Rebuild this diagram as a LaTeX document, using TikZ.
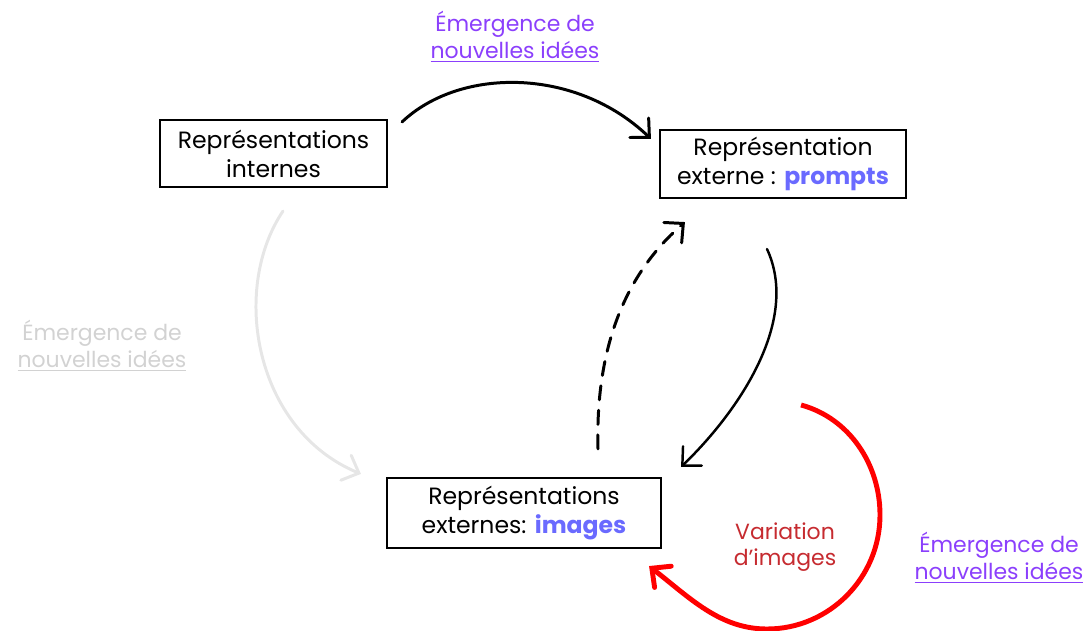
\documentclass[tikz,border=0pt]{standalone}
\usepackage{fontspec}
\setmainfont{Poppins}
\usetikzlibrary{arrows.meta,calc}

\definecolor{ideaviolet}{HTML}{8B3FFC}
\definecolor{promptblue}{HTML}{6A6AFF}
\definecolor{variared}{HTML}{C62B30}
\definecolor{fadegray}{HTML}{D2D2D2}
\definecolor{fadearrow}{HTML}{E6E6E6}

\begin{document}
\begin{tikzpicture}[
        x=0.02cm, y=-0.02cm,
        repbox/.style={rectangle, draw, line width=1.2pt, align=center,
            inner sep=0pt, font=\fontsize{13.4}{16.4}\selectfont},
        note/.style={align=center, font=\fontsize{12.5}{15.2}\selectfont},
        loop/.style={-{Straight Barb[length=2.8mm, width=5.4mm, line cap=round]},
            line width=1.7pt, line cap=round},
    ]
        \useasboundingbox (0,0) rectangle (1088,631);

        % Boxes
        \node[repbox, minimum width=227*0.02cm, minimum height=67*0.02cm]
            (int) at (273.5,153.5) {Représentations\\internes};
        \node[repbox, minimum width=246*0.02cm, minimum height=68*0.02cm]
            (prm) at (783,164) {Représentation\\externe : \textcolor{promptblue}{\bfseries prompts}};
        \node[repbox, minimum width=274*0.02cm, minimum height=70*0.02cm]
            (img) at (524,513) {Représentations\\externes: \textcolor{promptblue}{\bfseries images}};

        % Labels
        \node[note, text=ideaviolet] (idtop) at (515,37)
            {Émergence de\\\underline{nouvelles idées}};
        \node[note, text=fadegray] (idleft) at (102,346)
            {Émergence de\\\underline{nouvelles idées}};
        \node[note, text=ideaviolet] (idright) at (999,558)
            {Émergence de\\\underline{nouvelles idées}};
        \node[note, text=variared] (vari) at (785,547)
            {Variation\\d’images};

        % Connectors
        \draw[loop] ($(int.north east)+(14,3)$)
            .. controls (460,67) and (576,67) .. ($(prm.north west)+(-8,10)$);
        \draw[loop, draw=fadearrow] ($(int.south)+(9.5,23)$)
            .. controls (230,290) and (255,430) .. ($(img.north west)+(-25,-3)$);
        \draw[loop, line width=1.4pt] ($(prm.south)+(-16,50)$)
            .. controls (800,320) and (740,410) .. ($(img.north east)+(19,-10)$);
        \draw[loop, dash pattern=on 8pt off 6pt] ($(img.north)+(74,-28)$)
            .. controls (595,340) and (630,270) .. ($(prm.south west)+(26,23)$);
        \draw[loop, draw=red, line width=2.8pt, line cap=butt] ($(img.east)+(139,-108)$)
            .. controls (849,418) and (880,464) .. (880,515)
            .. controls (880,578) and (829,629) .. (767,629)
            .. controls (720,629) and (690,598) .. ($(img.south east)+(-13,17)$);
\end{tikzpicture}
\end{document}
